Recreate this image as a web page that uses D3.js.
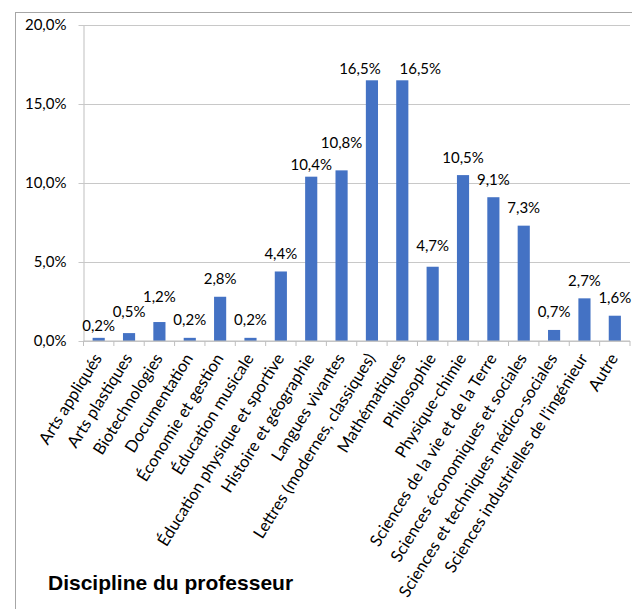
<!DOCTYPE html>
<html>
<head>
<meta charset="utf-8">
<script src="https://cdn.jsdelivr.net/npm/d3@7"></script>
<style>
  html, body { margin: 0; padding: 0; background: #fff; }
  svg { display: block; }
</style>
</head>
<body>
<svg id="chart" width="632" height="609"></svg>
<script>
const categories = [
  "Arts appliqués",
  "Arts plastiques",
  "Biotechnologies",
  "Documentation",
  "Économie et gestion",
  "Éducation musicale",
  "Éducation physique et sportive",
  "Histoire et géographie",
  "Langues vivantes",
  "Lettres (modernes, classiques)",
  "Mathématiques",
  "Philosophie",
  "Physique-chimie",
  "Sciences de la vie et de la Terre",
  "Sciences économiques et sociales",
  "Sciences et techniques médico-sociales",
  "Sciences industrielles de l’ingénieur",
  "Autre"
];
const values = [0.2, 0.5, 1.2, 0.2, 2.8, 0.2, 4.4, 10.4, 10.8, 16.5, 16.5, 4.7, 10.5, 9.1, 7.3, 0.7, 2.7, 1.6];
const yTicks = [0, 5, 10, 15, 20];
const title = "Discipline du professeur";

const fmt = v => v.toFixed(1).replace(".", ",") + "%";

const svg = d3.select("#chart");
const font = "Lato, 'Open Sans', sans-serif";
const fsCat = 16.5, fsVal = 15;

// outer frame
svg.append("rect")
  .attr("x", 15.5).attr("y", 12.5)
  .attr("width", 640).attr("height", 620)
  .attr("fill", "none").attr("stroke", "#a6a6a6").attr("stroke-width", 1);

const x0 = 83.5, x1 = 630, yTop = 25, yBot = 341;
const x = d3.scaleBand().domain(categories).range([x0, x1]).paddingInner(0.6).paddingOuter(0.3);
const y = d3.scaleLinear().domain([0, 20]).range([yBot, yTop]);

// gridlines + y axis
const yAxis = d3.axisLeft(y).tickValues(yTicks).tickFormat(d => d.toFixed(1).replace(".", ",") + "%")
  .tickSize(-(x1 - x0)).tickSizeOuter(0);
const gy = svg.append("g").attr("transform", `translate(${x0},0)`).call(yAxis);
gy.select(".domain").attr("stroke", "#bfbfbf");
gy.selectAll(".tick line").attr("stroke", "#c8c8c8").attr("x1", -5);
gy.selectAll(".tick text").attr("font-family", font).attr("font-size", fsVal).attr("fill", "#000").attr("x", -17);

// bars
svg.append("g").selectAll("rect").data(values).join("rect")
  .attr("x", (d, i) => x(categories[i]))
  .attr("width", x.bandwidth())
  .attr("y", d => y(d))
  .attr("height", d => yBot - y(d))
  .attr("fill", "#4472c4");

// x axis
const gx = svg.append("g").attr("transform", `translate(0,${yBot})`);
gx.append("line").attr("x1", x0).attr("x2", x1).attr("stroke", "#bfbfbf");
const boundaries = d3.range(categories.length + 1).map(i => x0 + i * (x1 - x0) / categories.length);
gx.selectAll("line.tk").data(boundaries).join("line").attr("class", "tk")
  .attr("x1", d => d).attr("x2", d => d).attr("y1", 0).attr("y2", 5).attr("stroke", "#bfbfbf");

// category labels
svg.append("g").selectAll("text").data(categories).join("text")
  .attr("transform", d => `translate(${x(d) + x.bandwidth() / 2 - 1},${yBot + 14}) rotate(-58)`)
  .attr("text-anchor", "end")
  .attr("dy", "0.35em")
  .attr("font-family", font).attr("font-size", fsCat).attr("fill", "#000")
  .text(d => d);

// data labels (manual nudges as in the reference layout)
const labelDx = { "Lettres (modernes, classiques)": -12, "Mathématiques": 18 };
const labelLift = {
  "Arts appliqués": 6.5, "Arts plastiques": 16, "Biotechnologies": 20,
  "Histoire et géographie": 7, "Langues vivantes": 22,
  "Lettres (modernes, classiques)": 6, "Mathématiques": 6,
  "Philosophie": 16
};
svg.append("g").selectAll("text").data(values).join("text")
  .attr("x", (d, i) => x(categories[i]) + x.bandwidth() / 2 + (labelDx[categories[i]] || 0))
  .attr("y", (d, i) => y(d) - (labelLift[categories[i]] ?? 12.5))
  .attr("text-anchor", "middle")
  .attr("font-family", font).attr("font-size", fsVal).attr("fill", "#000")
  .text(d => fmt(d));

// title
svg.append("text").attr("x", 48).attr("y", 590)
  .attr("font-family", "'Liberation Sans', Arial, sans-serif").attr("font-weight", "bold")
  .attr("font-size", 21).attr("fill", "#000")
  .text(title);
</script>
</body>
</html>
